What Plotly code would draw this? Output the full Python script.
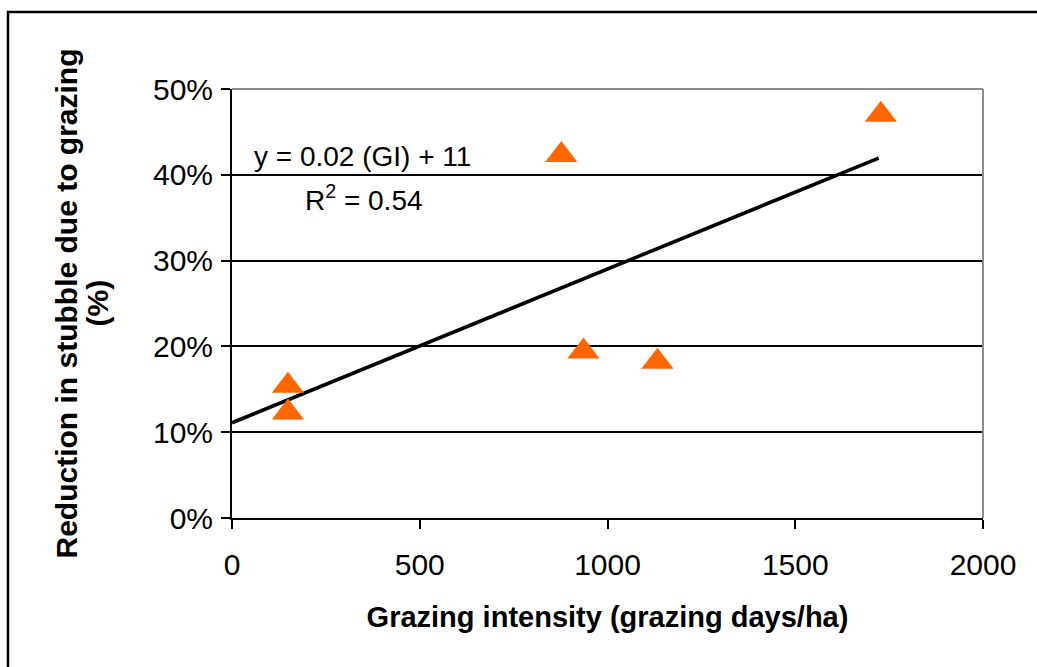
import plotly.graph_objects as go

# Data
grazing_intensity = [149, 149, 877, 936, 1133, 1728]          # grazing days/ha
stubble_reduction = [0.154, 0.123, 0.423, 0.194, 0.182, 0.470]  # fraction

trend_x = [0, 1722]
trend_y = [0.111, 0.4195]

x_ticks = [0, 500, 1000, 1500, 2000]
y_ticks = [0, 0.1, 0.2, 0.3, 0.4, 0.5]

equation_text = "y = 0.02 (GI) + 11"
r2_text = "R<sup>2</sup> = 0.54"
x_title = "Grazing intensity (grazing days/ha)"
y_title_1 = "Reduction in stubble due to grazing"
y_title_2 = "(%)"

FONT = "Arial, Liberation Sans, sans-serif"

fig = go.Figure()

fig.add_trace(go.Scatter(
    x=trend_x, y=trend_y, mode="lines",
    line=dict(color="black", width=3.6),
    showlegend=False, hoverinfo="skip",
))

fig.add_trace(go.Scatter(
    x=grazing_intensity, y=stubble_reduction, mode="markers",
    marker=dict(symbol="triangle-up", size=28, color="#FF6600"),
    showlegend=False,
))

fig.update_layout(
    width=1037, height=667,
    margin=dict(l=232, r=54, t=89, b=149, pad=0),
    paper_bgcolor="white", plot_bgcolor="white",
    font=dict(family=FONT, color="black"),
    xaxis=dict(
        range=[0, 2000], tickvals=x_ticks, showgrid=False, zeroline=False,
        showline=True, linecolor="black", linewidth=2,
        ticks="outside", ticklen=9, tickwidth=1.6, tickcolor="black",
        tickfont=dict(size=30, family=FONT, color="black"),
        ticklabelstandoff=10,
        title=dict(text="<b>" + x_title + "</b>",
                   font=dict(size=29, family=FONT, color="black"), standoff=27),
    ),
    yaxis=dict(
        range=[0, 0.5], tickvals=y_ticks, tickformat=".0%",
        showgrid=True, gridcolor="black", gridwidth=2, zeroline=False,
        showline=True, linecolor="black", linewidth=2,
        ticks="outside", ticklen=9, tickwidth=1.6, tickcolor="black",
        tickfont=dict(size=30, family=FONT, color="black"),
        ticklabelstandoff=2,
    ),
    annotations=[
        dict(x=53, y=0.421, xref="x", yref="y", text=equation_text,
             showarrow=False, xanchor="left", yanchor="middle",
             font=dict(size=28, family=FONT, color="black")),
        dict(x=189, y=0.373, xref="x", yref="y", text=r2_text,
             showarrow=False, xanchor="left", yanchor="middle",
             font=dict(size=28, family=FONT, color="black")),
        dict(x=0, y=0.5, xref="paper", yref="paper", xshift=-166,
             text="<b>" + y_title_1 + "</b>", textangle=-90,
             showarrow=False, xanchor="center", yanchor="middle",
             font=dict(size=30, family=FONT, color="black")),
        dict(x=0, y=0.5, xref="paper", yref="paper", xshift=-135,
             text="<b>" + y_title_2 + "</b>", textangle=-90,
             showarrow=False, xanchor="center", yanchor="middle",
             font=dict(size=30, family=FONT, color="black")),
    ],
    shapes=[
        # outer chart border (extends past the window on right/bottom)
        dict(type="rect", xref="paper", yref="paper",
             x0=-0.2983, y0=-0.5, x1=1.2, y1=1.1795,
             line=dict(color="black", width=2.5), layer="below"),
        # gray top and right edges of the plot area
        dict(type="line", xref="paper", yref="paper", x0=0, x1=1, y0=1, y1=1,
             line=dict(color="#8c8c8c", width=2), layer="above"),
        dict(type="line", xref="paper", yref="paper", x0=1, x1=1, y0=0, y1=1,
             line=dict(color="#8c8c8c", width=2), layer="above"),
    ],
)

fig.write_html("out.html")
